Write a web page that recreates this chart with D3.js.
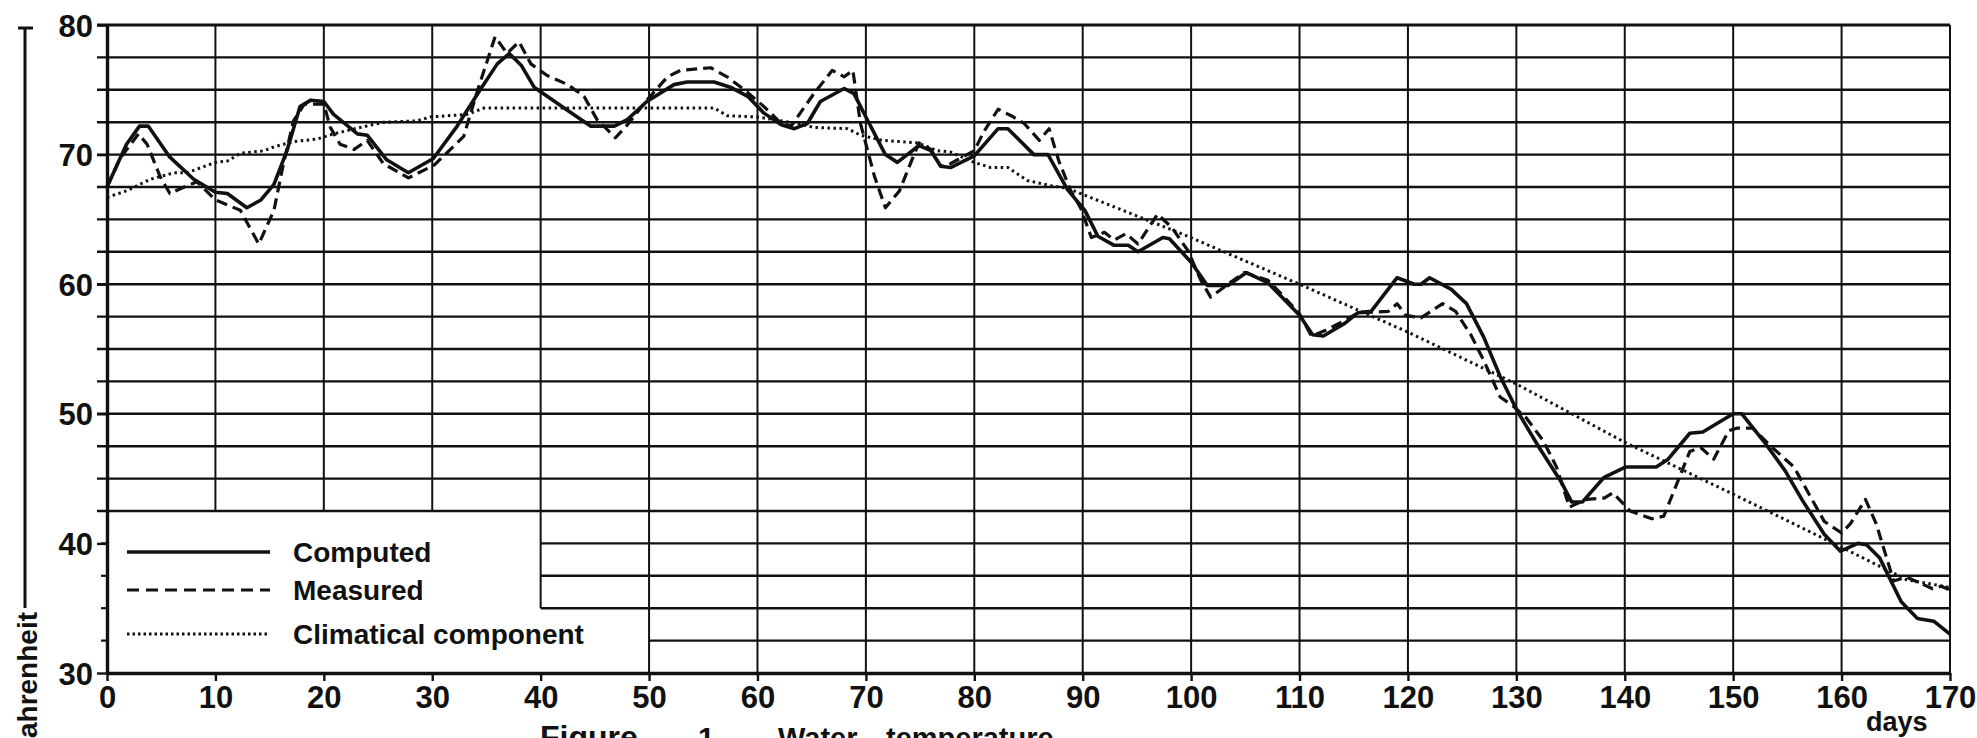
<!DOCTYPE html>
<html>
<head>
<meta charset="utf-8">
<script src="https://cdn.jsdelivr.net/npm/d3@7"></script>
<style>
  body { margin: 0; background: #fff; }
  svg { display: block; font-family: "Liberation Sans", Arial, sans-serif; }
</style>
</head>
<body>
<div id="chart"></div>
<script>

// [day, degrees F]
const computedPts = [
    [0,67.5],[1.8,70.8],[3,72.2],[3.8,72.2],[5.8,69.8],[8,68.1],[10,67.1],[11.1,67.0],[12.9,65.9],
    [14.2,66.5],[15.4,67.7],[16.6,70.3],[17.8,73.7],[18.8,74.2],[20,74.1],[20.9,73.1],[23.1,71.6],
    [24,71.5],[25.8,69.6],[27.8,68.6],[30.1,69.7],[32.3,72.2],[34.5,75.1],[36,77.0],[37.1,77.8],
    [38.2,76.9],[39.4,75.2],[40.6,74.5],[42.5,73.4],[44.6,72.2],[46.8,72.2],[48,72.7],[49.8,74.1],
    [52.3,75.4],[53.5,75.6],[56,75.6],[57.5,75.2],[59.1,74.5],[60.6,73.2],[62.2,72.3],[63.4,72.0],
    [64.6,72.4],[65.8,74.1],[68,75.1],[68.9,74.7],[70,72.9],[71.8,70.0],[72.9,69.4],[74.9,70.7],
    [76,70.3],[76.9,69.1],[77.8,69.0],[80,69.9],[82.2,72.0],[83.1,72.0],[85.5,70.0],[86.8,70.0],
    [88.6,67.3],[90.2,65.7],[91.4,63.7],[92.9,63.0],[94.2,63.0],[95.1,62.5],[97.4,63.6],[98,63.5],
    [100,61.7],[101.5,59.9],[103.4,59.9],[105.1,60.9],[107.1,60.1],[110,57.6],[111.2,56.1],
    [112.2,56.0],[114.2,57.0],[115.4,57.8],[116.6,57.9],[119,60.5],[120.6,60.0],[121.2,60.0],
    [122,60.5],[124,59.6],[125.4,58.5],[127,55.9],[128.5,52.9],[130.1,50.2],[132.1,47.4],
    [134.1,44.8],[135.1,43.2],[136.1,43.2],[138.1,45.1],[140.1,45.9],[142.9,45.9],[144,46.5],
    [146,48.5],[147.2,48.6],[150,50.0],[150.8,50.0],[152.8,47.9],[154.8,45.6],[156.4,43.3],
    [158.4,40.7],[159.9,39.4],[161.5,40.0],[162.3,39.9],[163.5,38.9],[165.5,35.5],[167,34.2],
    [168.5,34.0],[170,33.0]
];

const measuredPts = [
    [0,67.5],[1.2,69.7],[2.9,71.6],[3.7,70.8],[4.9,68.3],[5.8,67.0],[7.4,67.6],[8.3,67.9],[10,66.5],
    [12.3,65.7],[14,63.1],[15.4,65.7],[16.2,69.0],[17.2,72.6],[18.2,73.9],[20,73.9],[20.6,72.1],
    [21.5,70.8],[22.8,70.4],[24,71.1],[25.5,69.3],[27.8,68.2],[30.2,69.2],[32.9,71.4],[34.2,75.0],
    [35.8,79.1],[36.9,77.8],[38,78.7],[39.1,77.0],[40.6,76.1],[42.5,75.4],[44,74.5],[45.2,72.7],
    [46.9,71.3],[48,72.3],[49.8,74.2],[51.7,76.0],[52.9,76.5],[55.7,76.7],[57.2,76.0],[58.8,75.0],
    [60.6,73.7],[62.2,72.4],[63.1,72.2],[65.2,74.7],[66.9,76.5],[68,76.0],[68.8,76.5],[69.5,72.4],
    [70.8,68.3],[71.8,65.9],[73.1,67.2],[74.2,69.5],[74.9,70.9],[76,70.4],[76.9,69.1],[77.8,69.3],
    [80,70.3],[80.9,71.8],[82.2,73.5],[83.4,73.0],[84.6,72.4],[86,71.1],[86.9,72.0],[87.8,69.5],
    [88.9,67.2],[89.8,65.9],[90.8,63.6],[92,64.0],[92.9,63.4],[94,63.9],[95.1,63.1],[96.9,65.4],
    [98.2,64.4],[99.7,62.6],[100.9,60.3],[101.8,59.0],[103.4,60.0],[104.9,60.9],[107.1,60.3],
    [108.6,59.0],[110,57.7],[111.1,56.0],[112.3,56.4],[114.2,57.2],[115.4,57.8],[118.2,57.9],
    [119,58.5],[119.8,57.6],[121.2,57.4],[123.2,58.5],[124.4,57.9],[125.8,56.1],[127,54.1],
    [128.5,51.3],[129.7,50.6],[130.9,49.7],[132.5,47.9],[133.7,45.9],[134.9,42.8],[136.5,43.4],
    [138.1,43.5],[138.9,43.9],[140.5,42.5],[142.5,41.9],[143.6,42.1],[144.8,44.6],[146,47.1],
    [147,47.4],[148.2,46.5],[149.6,48.7],[150.4,48.9],[151.8,48.9],[153.6,47.4],[155.6,45.9],
    [156.8,44.1],[158.4,41.7],[160,40.8],[160.8,41.5],[162.2,43.4],[163.2,41.5],[164.8,37.1],
    [166,37.4],[166.8,37.1],[168.4,36.5],[169.2,36.7],[170,36.4]
];

const climatePts = [
    [0,66.7],[1.8,67.2],[4,68.1],[6.2,68.6],[7.4,68.6],[10,69.4],[11.1,69.5],[12.3,70.1],[14.5,70.3],
    [15.4,70.6],[17.2,71.0],[19.4,71.2],[20.9,71.6],[23.4,72.1],[25.5,72.5],[28.6,72.6],[29.8,72.9],
    [33.2,73.1],[34.8,73.6],[56,73.6],[57.2,73.0],[60,72.9],[61.5,72.7],[63.7,72.4],[65.2,72.1],
    [68.3,72.0],[69.5,71.5],[71.5,71.1],[74.8,70.9],[76.6,70.3],[77.8,70.2],[80,69.4],[81.5,69.0],
    [83.1,69.0],[84.9,68.0],[87.1,67.6],[88.6,67.4],[99.4,63.8],[110,60.0],[120,56.3],[130,52.3],
    [140,47.8],[150,43.8],[160,39.7],[166,37.2],[170,36.6]
];

const xTicks = [0,10,20,30,40,50,60,70,80,90,100,110,120,130,140,150,160,170];
const yTicks = [30,40,50,60,70,80];
const legendLabels = ['Computed', 'Measured', 'Climatical component'];

const width = 1977;
const height = 738;
const ink = '#111';

const svg = d3.select('#chart')
    .append('svg')
    .attr('width', width)
    .attr('height', height);

const x = d3.scaleLinear().domain([0, 170]).range([107, 1950]);
const y = d3.scaleLinear().domain([30, 80]).range([673, 25]);

// horizontal grid every 2.5 deg, cut away around the legend box
const hGrid = d3.range(32.5, 80, 2.5);
svg.append('g')
    .selectAll('line')
    .data(hGrid)
    .join('line')
    .attr('x1', (d) => d >= 42.5 ? x(0) - 10 : (d >= 35 ? x(40) : x(50)))
    .attr('x2', x(170))
    .attr('y1', (d) => y(d))
    .attr('y2', (d) => y(d))
    .attr('stroke', ink)
    .attr('stroke-width', 2.4);

// little ticks on the axis inside the legend part
svg.append('g')
    .selectAll('line')
    .data(hGrid.filter((d) => d < 42.5))
    .join('line')
    .attr('x1', x(0) - 6)
    .attr('x2', x(0))
    .attr('y1', (d) => y(d))
    .attr('y2', (d) => y(d))
    .attr('stroke', ink)
    .attr('stroke-width', 2.2);

// vertical grid every 10 days
svg.append('g')
    .selectAll('line')
    .data(d3.range(10, 171, 10))
    .join('line')
    .attr('x1', (d) => x(d))
    .attr('x2', (d) => x(d))
    .attr('y1', y(80))
    .attr('y2', (d) => d <= 30 ? y(42.5) : (d == 40 ? y(35) : y(30)))
    .attr('stroke', ink)
    .attr('stroke-width', 2);

// top border
svg.append('line')
    .attr('x1', x(0) - 10).attr('x2', x(170))
    .attr('y1', y(80)).attr('y2', y(80))
    .attr('stroke', ink).attr('stroke-width', 3);

const xAxis = svg.append('g')
    .attr('transform', `translate(0,${y(30)})`)
    .call(d3.axisBottom(x).tickValues(xTicks).tickSize(8).tickSizeOuter(0).tickPadding(5));

const yAxis = svg.append('g')
    .attr('transform', `translate(${x(0)},0)`)
    .call(d3.axisLeft(y).tickValues(yTicks).tickSize(10).tickSizeOuter(0).tickPadding(4));

[xAxis, yAxis].forEach((g) => {
    g.select('.domain').attr('stroke', ink).attr('stroke-width', 3.4);
    g.selectAll('.tick line').attr('stroke', ink).attr('stroke-width', 2.4);
    g.selectAll('.tick text')
        .attr('fill', ink)
        .style('font-size', '31px')
        .style('font-weight', 'bold')
        .style('font-family', '"Liberation Sans", Arial, sans-serif');
});
yAxis.selectAll('.tick text').attr('dy', '0.36em');

const line = d3.line()
    .x((d) => x(d[0]))
    .y((d) => y(d[1]));

const series = [
    { pts: climatePts, w: 3, dash: '2.5,3.5' },
    { pts: measuredPts, w: 3.2, dash: '11,6' },
    { pts: computedPts, w: 3.6, dash: null }
];

svg.append('g')
    .selectAll('path')
    .data(series)
    .join('path')
    .attr('d', (d) => line(d.pts))
    .attr('fill', 'none')
    .attr('stroke', ink)
    .attr('stroke-width', (d) => d.w)
    .attr('stroke-dasharray', (d) => d.dash)
    .attr('stroke-linejoin', 'round');

// legend
const legendStyles = [
    { w: 3.6, dash: null },
    { w: 3.2, dash: '12,7' },
    { w: 3, dash: '2.5,3' }
];
const legendY = [552, 590, 634];

const legend = svg.append('g')
    .selectAll('g')
    .data(legendLabels)
    .join('g')
    .attr('transform', (d, i) => `translate(0,${legendY[i]})`);

legend.append('line')
    .attr('x1', 127).attr('x2', 270)
    .attr('stroke', ink)
    .attr('stroke-width', (d, i) => legendStyles[i].w)
    .attr('stroke-dasharray', (d, i) => legendStyles[i].dash);

legend.append('text')
    .attr('x', 293)
    .attr('dy', '0.36em')
    .attr('fill', ink)
    .style('font-size', '28px')
    .style('font-weight', 'bold')
    .text((d) => d);

// y axis title, its first letter falls below the frame
svg.append('line')
    .attr('x1', 25).attr('x2', 25)
    .attr('y1', 28).attr('y2', 608)
    .attr('stroke', ink).attr('stroke-width', 3);
svg.append('line')
    .attr('x1', 18).attr('x2', 33)
    .attr('y1', 28).attr('y2', 28)
    .attr('stroke', ink).attr('stroke-width', 3);
svg.append('text')
    .attr('transform', 'translate(37,612) rotate(-90)')
    .attr('text-anchor', 'end')
    .attr('fill', ink)
    .style('font-size', '28px')
    .style('font-weight', 'bold')
    .text('Fahrenheit');

svg.append('text')
    .attr('x', 1866).attr('y', 731)
    .attr('fill', ink)
    .style('font-size', '27px')
    .style('font-weight', 'bold')
    .text('days');

// caption, only its top shows in the frame
const caption = svg.append('g').attr('fill', ink).style('font-weight', 'bold');
caption.append('text').attr('x', 540).attr('y', 748).style('font-size', '32px').text('Figure');
caption.append('text').attr('x', 698).attr('y', 748).style('font-size', '30px').text('1');
caption.append('text').attr('x', 778).attr('y', 748).style('font-size', '29px').text('Water');
caption.append('text').attr('x', 886).attr('y', 748).style('font-size', '29px').text('temperature');

</script>
</body>
</html>
